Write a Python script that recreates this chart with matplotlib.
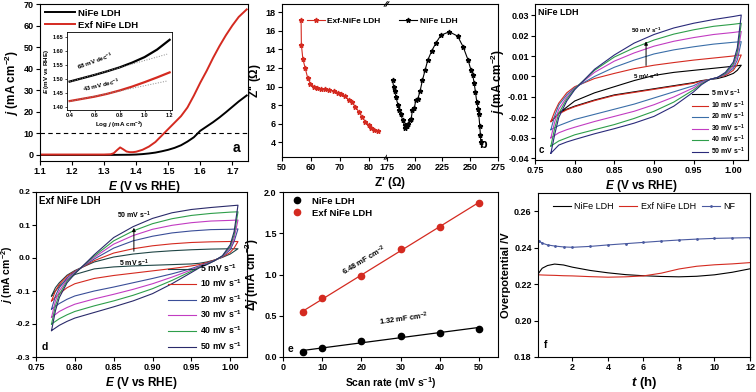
import numpy as np
import matplotlib.pyplot as plt

plt.rcParams['font.family'] = ['Liberation Sans', 'DejaVu Sans']
plt.rcParams['font.weight'] = 'bold'
plt.rcParams['axes.labelweight'] = 'bold'
plt.rcParams['axes.unicode_minus'] = False
plt.rcParams['mathtext.fontset'] = 'custom'
plt.rcParams['mathtext.rm'] = 'Liberation Sans:bold'
plt.rcParams['mathtext.it'] = 'Liberation Sans:italic:bold'
plt.rcParams['mathtext.bf'] = 'Liberation Sans:bold'
plt.rcParams['xtick.labelsize'] = 6.5
plt.rcParams['ytick.labelsize'] = 6.5
plt.rcParams['xtick.major.size'] = 3
plt.rcParams['ytick.major.size'] = 3
plt.rcParams['xtick.major.pad'] = 1.5
plt.rcParams['ytick.major.pad'] = 1.5
plt.rcParams['axes.linewidth'] = 0.8

# ---- a: LSV ----
E_nife = [1.10, 1.20, 1.30, 1.38, 1.40, 1.42, 1.44, 1.46, 1.48, 1.50, 1.52, 1.54, 1.56,
          1.58, 1.60, 1.62, 1.64, 1.66, 1.68, 1.70, 1.72, 1.745]
j_nife = [0, 0, 0, 0.1, 0.2, 0.4, 0.7, 1.1, 1.7, 2.4, 3.3, 4.5, 6.2, 8.2, 11.2, 13.2,
          15.2, 17.4, 19.8, 22.3, 24.8, 27.6]
E_exf = [1.10, 1.20, 1.30, 1.32, 1.33, 1.34, 1.35, 1.36, 1.37, 1.38, 1.39, 1.40, 1.42,
         1.44, 1.46, 1.48, 1.50, 1.52, 1.54, 1.56, 1.58, 1.60, 1.62, 1.64, 1.66, 1.68,
         1.70, 1.72, 1.745]
j_exf = [0.2, 0.2, 0.2, 0.3, 0.8, 2.2, 3.5, 2.6, 1.6, 1.3, 1.3, 1.5, 2.4, 3.9, 6.0, 9.0,
         12.0, 15.0, 18.0, 22.0, 27.5, 33.5, 39.0, 45.0, 50.5, 55.5, 60.0, 64.0, 67.5]

# inset Tafel
logj = [0.4, 0.5, 0.6, 0.7, 0.8, 0.9, 1.0, 1.1, 1.2]
tafel_nife = [1.490, 1.502, 1.514, 1.527, 1.541, 1.558, 1.578, 1.605, 1.640]
tafel_exf = [1.420, 1.428, 1.436, 1.446, 1.458, 1.472, 1.488, 1.505, 1.523]

# ---- b: Nyquist ----
zre_exf = [56.6, 56.7, 57.2, 58.0, 58.9, 59.8, 61.0, 62.1, 63.5, 65.0, 66.4, 67.9, 69.3,
           70.4, 71.7, 73.0, 74.1, 75.4, 76.5, 77.7, 78.8, 80.0, 80.9, 81.9, 83.3]
zim_exf = [17.17, 14.5, 13.0, 12.0, 10.9, 10.3, 10.0, 9.85, 9.75, 9.7, 9.6, 9.5, 9.35,
           9.2, 8.95, 8.6, 8.3, 7.8, 7.3, 6.7, 6.2, 5.85, 5.55, 5.3, 5.15]
zre_nife = [180.0, 180.9, 181.8, 183.1, 184.9, 186.0, 187.2, 189.0, 190.8, 191.4, 192.6,
            193.8, 195.6, 196.8, 197.9, 199.7, 200.9, 202.8, 204.8, 206.9, 209.3, 211.7,
            215.3, 219.1, 223.6, 231.1, 238.6, 243.6, 248.1, 250.5, 252.3, 253.5, 254.7,
            255.9, 257.1, 257.7, 258.6, 259.2, 259.5]
zim_nife = [10.75, 10.0, 9.5, 8.87, 7.97, 7.5, 7.07, 6.42, 5.8, 5.55, 5.7, 5.99, 6.34,
            6.53, 7.43, 7.72, 8.5, 8.7, 9.5, 10.67, 11.75, 12.84, 13.84, 14.7, 15.54, 15.9,
            15.44, 14.28, 12.84, 11.83, 11.2, 10.38, 9.4, 8.3, 7.6, 7.0, 5.7, 4.72, 4.0]

# ---- c / d: CV ----
E_up = [0.77, 0.775, 0.78, 0.79, 0.80, 0.825, 0.85, 0.875, 0.90, 0.925, 0.95, 0.975, 1.00, 1.01]
E_down = [1.01, 1.005, 1.00, 0.99, 0.98, 0.97, 0.96, 0.95, 0.925, 0.90, 0.875, 0.85, 0.825,
          0.80, 0.79, 0.78, 0.77]
scan_labels = ['5 mV s$^{-1}$', '10 mV s$^{-1}$', '20 mV s$^{-1}$', '30 mV s$^{-1}$',
               '40 mV s$^{-1}$', '50 mV s$^{-1}$']

cv_nife_up = [
    [-0.022, -0.020, -0.018, -0.015, -0.012, -0.008, -0.005, -0.002, 0.0005, 0.002, 0.003, 0.004, 0.005, 0.0055],
    [-0.022, -0.017, -0.013, -0.008, -0.005, -0.001, 0.0015, 0.0038, 0.0055, 0.0068, 0.008, 0.009, 0.010, 0.0105],
    [-0.026, -0.019, -0.014, -0.009, -0.0055, 0.000, 0.0045, 0.008, 0.011, 0.013, 0.0145, 0.0158, 0.0167, 0.017],
    [-0.030, -0.022, -0.016, -0.010, -0.0058, 0.002, 0.0075, 0.0115, 0.0148, 0.0172, 0.019, 0.0205, 0.0215, 0.022],
    [-0.034, -0.025, -0.018, -0.011, -0.006, 0.003, 0.0095, 0.014, 0.0178, 0.0207, 0.0228, 0.0245, 0.0255, 0.026],
    [-0.0375, -0.028, -0.020, -0.012, -0.0065, 0.0035, 0.0105, 0.0163, 0.0205, 0.0237, 0.026, 0.0278, 0.0293, 0.030],
]
cv_nife_down = [
    [0.0055, 0.003, 0.0015, 0.000, -0.001, -0.0015, -0.002, -0.003, -0.0045, -0.006, -0.0075, -0.009, -0.0115, -0.0145, -0.016, -0.018, -0.022],
    [0.0105, 0.006, 0.003, 0.0005, -0.0005, -0.0015, -0.0022, -0.0033, -0.0048, -0.0063, -0.0078, -0.0093, -0.0118, -0.0148, -0.0163, -0.0183, -0.022],
    [0.017, 0.008, 0.004, 0.001, -0.0005, -0.0015, -0.0025, -0.0045, -0.0075, -0.0105, -0.0135, -0.016, -0.0185, -0.021, -0.0225, -0.024, -0.026],
    [0.022, 0.010, 0.005, 0.0012, -0.0005, -0.0015, -0.003, -0.0055, -0.010, -0.0138, -0.017, -0.0195, -0.022, -0.0248, -0.026, -0.0275, -0.030],
    [0.026, 0.012, 0.006, 0.0015, -0.0005, -0.0015, -0.0035, -0.0065, -0.0125, -0.017, -0.0205, -0.0235, -0.026, -0.0285, -0.030, -0.0315, -0.034],
    [0.030, 0.014, 0.007, 0.002, -0.0005, -0.0015, -0.004, -0.0075, -0.0145, -0.0195, -0.0228, -0.0255, -0.028, -0.0308, -0.032, -0.0335, -0.0375],
]
cv_exf_up = [
    [-0.115, -0.090, -0.075, -0.052, -0.038, -0.012, 0.003, 0.012, 0.018, 0.022, 0.025, 0.027, 0.028, 0.028],
    [-0.130, -0.100, -0.080, -0.055, -0.040, -0.008, 0.015, 0.028, 0.037, 0.043, 0.047, 0.049, 0.050, 0.050],
    [-0.155, -0.115, -0.090, -0.060, -0.042, -0.003, 0.030, 0.052, 0.066, 0.076, 0.082, 0.086, 0.087, 0.088],
    [-0.180, -0.130, -0.100, -0.065, -0.044, 0.002, 0.042, 0.068, 0.087, 0.099, 0.107, 0.112, 0.114, 0.115],
    [-0.200, -0.145, -0.110, -0.070, -0.046, 0.006, 0.052, 0.082, 0.104, 0.119, 0.129, 0.135, 0.139, 0.140],
    [-0.220, -0.160, -0.120, -0.075, -0.048, 0.010, 0.062, 0.095, 0.120, 0.137, 0.147, 0.153, 0.158, 0.160],
]
cv_exf_down = [
    [0.028, 0.020, 0.012, 0.002, -0.006, -0.012, -0.016, -0.018, -0.020, -0.022, -0.024, -0.027, -0.033, -0.050, -0.065, -0.085, -0.115],
    [0.050, 0.030, 0.017, 0.003, -0.006, -0.014, -0.020, -0.024, -0.032, -0.039, -0.046, -0.053, -0.062, -0.078, -0.090, -0.108, -0.130],
    [0.088, 0.050, 0.025, 0.004, -0.007, -0.016, -0.024, -0.032, -0.048, -0.062, -0.075, -0.088, -0.100, -0.115, -0.125, -0.138, -0.155],
    [0.115, 0.060, 0.030, 0.005, -0.008, -0.018, -0.026, -0.036, -0.058, -0.078, -0.095, -0.110, -0.124, -0.140, -0.150, -0.162, -0.180],
    [0.140, 0.070, 0.035, 0.006, -0.008, -0.019, -0.028, -0.040, -0.068, -0.093, -0.113, -0.130, -0.145, -0.162, -0.172, -0.184, -0.200],
    [0.160, 0.080, 0.040, 0.007, -0.008, -0.020, -0.030, -0.044, -0.078, -0.108, -0.130, -0.148, -0.165, -0.182, -0.192, -0.204, -0.220],
]
colors_c = ['#000000', '#d42a20', '#3a6ea8', '#c23cc2', '#2e9e4a', '#2a2a7a']
colors_d = ['#1f4545', '#d42a20', '#3a4e98', '#c23cc2', '#2e9e4a', '#2a2a6a']

# ---- e: double layer capacitance ----
scan_rate = [5, 10, 20, 30, 40, 50]
dj_nife = [0.06, 0.11, 0.19, 0.25, 0.295, 0.345]
dj_exf = [0.545, 0.71, 0.98, 1.315, 1.575, 1.87]

# ---- f: stability ----
t_h = [0.1, 0.3, 0.6, 1.0, 1.5, 2, 3, 4, 5, 6, 7, 8, 9, 10, 11, 12]
eta_nife = [0.2260, 0.2287, 0.2302, 0.2310, 0.2305, 0.2293, 0.2275, 0.2262, 0.2252, 0.2246,
            0.2242, 0.2240, 0.2243, 0.2251, 0.2265, 0.2284]
eta_exf = [0.2251, 0.2250, 0.2249, 0.2248, 0.2246, 0.2245, 0.2241, 0.2238, 0.2240, 0.2245,
           0.2260, 0.2283, 0.2298, 0.2306, 0.2311, 0.2318]
eta_nf = [0.2438, 0.2425, 0.2415, 0.2409, 0.2404, 0.2402, 0.2407, 0.2415, 0.2422, 0.2429,
          0.2436, 0.2442, 0.2447, 0.2451, 0.2453, 0.2455]

RED = '#d42a20'


def px(l, t, r, b):
    W, H = 756, 392
    return [l / W, 1 - b / H, (r - l) / W, (b - t) / H]


fig = plt.figure(figsize=(7.56, 3.92), dpi=100)

# panel a
ax = fig.add_axes(px(40, 4, 248, 161))
ax.plot(E_nife, j_nife, color='k', lw=1.4, label='NiFe LDH')
ax.plot(E_exf, j_exf, color=RED, lw=1.4, label='Exf NiFe LDH')
ax.axhline(10, color='k', ls='--', lw=0.8, dashes=(4, 3))
ax.set_xlim(1.1, 1.749)
ax.set_ylim(-2.8, 70)
ax.set_xticks([1.1, 1.2, 1.3, 1.4, 1.5, 1.6, 1.7])
ax.set_yticks(range(0, 71, 10))
ax.set_xlabel('$E$ (V vs RHE)', fontsize=8.5, labelpad=2)
ax.set_ylabel('$j$ (mA cm$^{-2}$)', fontsize=8.5, labelpad=2)
ax.legend(loc='upper left', frameon=False, fontsize=6.8, handlelength=3.2,
          borderaxespad=0.1, labelspacing=0.3, handletextpad=0.3)
ax.text(0.965, 0.04, 'a', transform=ax.transAxes, ha='right', va='bottom', fontsize=10)

ins = fig.add_axes(px(67, 32, 172, 110))
ins.plot(logj, tafel_nife, color='k', lw=1.6)
ins.plot(logj, tafel_exf, color=RED, lw=1.6)
xf = np.array([0.4, 1.18])
for yv in (tafel_nife, tafel_exf):
    p = np.polyfit(logj[:5], yv[:5], 1)
    ins.plot(xf, np.polyval(p, xf), color='#888888', ls=':', lw=0.7)
ins.set_xlim(0.379, 1.219)
ins.set_ylim(1.388, 1.668)
ins.set_xticks([0.4, 0.6, 0.8, 1.0, 1.2])
ins.set_yticks([1.40, 1.45, 1.50, 1.55, 1.60, 1.65])
ins.tick_params(labelsize=4, length=1.5, pad=1, width=0.5)
for s in ins.spines.values():
    s.set_linewidth(0.6)
ins.set_xlabel('Log $j$ (mA cm$^{-2}$)', fontsize=4.5, labelpad=1)
ins.set_ylabel('$E$ (mV vs RHE)', fontsize=4.5, labelpad=1)
ins.text(0.45, 1.532, '68 mV dec$^{-1}$', fontsize=4.5, rotation=20)
ins.text(0.5, 1.455, '43 mV dec$^{-1}$', fontsize=4.5, rotation=13)

# panel b (broken x axis)
bl = fig.add_axes(px(282, 4, 387, 157))
br = fig.add_axes(px(387, 4, 498, 157))
bl.plot(zre_exf, zim_exf, color=RED, lw=0.8, marker='*', ms=3.5, label='Exf-NiFe LDH')
br.plot(zre_nife, zim_nife, color='k', lw=0.8, marker='*', ms=3.5, label='NiFe LDH')
bl.set_xlim(50, 86.3)
br.set_xlim(175, 275)
for a in (bl, br):
    a.set_ylim(2.4, 18.9)
bl.set_yticks(range(4, 19, 2))
bl.set_xticks([50, 60, 70, 80])
br.set_xticks([175, 200, 225, 250, 275])
bl.spines['right'].set_visible(False)
br.spines['left'].set_visible(False)
br.tick_params(axis='y', left=False, labelleft=False)
for yy in (0, 1):
    for dx in (-0.012, 0.004):
        bl.plot([1 + dx - 0.015, 1 + dx + 0.015], [yy - 0.015, yy + 0.015],
                transform=bl.transAxes, color='k', lw=0.7, clip_on=False)
bl.set_ylabel("Z'' ($\\Omega$)", fontsize=8.5, labelpad=2)
fig.text(390 / 756, 1 - 183 / 392, "Z' ($\\Omega$)", fontsize=8.5, ha='center', va='center')
h1, l1 = bl.get_legend_handles_labels()
h2, l2 = br.get_legend_handles_labels()
fig.legend(h1 + h2, l1 + l2, ncol=2, loc='center', bbox_to_anchor=(382 / 756, 1 - 21 / 392),
           frameon=False, fontsize=6, handlelength=2.2, columnspacing=2.2, handletextpad=0.3)
br.text(0.9, 0.04, 'b', transform=br.transAxes, ha='right', va='bottom', fontsize=9)

# panel c
axc = fig.add_axes(px(535, 4, 748, 160))
for k in range(6):
    axc.plot(E_up + E_down, cv_nife_up[k] + cv_nife_down[k], color=colors_c[k], lw=0.8,
             label=scan_labels[k])
axc.set_xlim(0.75, 1.0185)
axc.set_ylim(-0.0408, 0.0354)
axc.set_xticks([0.75, 0.80, 0.85, 0.90, 0.95, 1.00])
axc.set_yticks([-0.04, -0.03, -0.02, -0.01, 0.00, 0.01, 0.02, 0.03])
axc.yaxis.set_major_formatter(plt.FormatStrFormatter('%.2f'))
axc.xaxis.set_major_formatter(plt.FormatStrFormatter('%.2f'))
axc.set_xlabel('$E$ (V vs RHE)', fontsize=8.5, labelpad=2)
axc.set_ylabel('$j$ (mA cm$^{-2}$)', fontsize=8.5, labelpad=1)
axc.legend(loc='lower right', frameon=False, fontsize=5, handlelength=2.2,
           labelspacing=0.02, borderaxespad=0.1, handletextpad=0.4)
axc.text(0.015, 0.975, 'NiFe LDH', transform=axc.transAxes, ha='left', va='top', fontsize=6.5)
axc.text(0.015, 0.03, 'c', transform=axc.transAxes, ha='left', va='bottom', fontsize=7)
axc.annotate('', xy=(0.89, 0.0185), xytext=(0.89, 0.004),
             arrowprops=dict(arrowstyle='-|>', lw=0.7, color='k', mutation_scale=5))
axc.text(0.89, 0.0205, '50 mV s$^{-1}$', fontsize=4.5, ha='center', va='bottom')
axc.text(0.89, 0.0025, '5 mV s$^{-1}$', fontsize=4.5, ha='center', va='top')

# panel d
axd = fig.add_axes(px(36, 192, 247, 357))
for k in range(6):
    axd.plot(E_up + E_down, cv_exf_up[k] + cv_exf_down[k], color=colors_d[k], lw=0.8,
             label=scan_labels[k])
axd.set_xlim(0.75, 1.0216)
axd.set_ylim(-0.3, 0.2)
axd.set_xticks([0.75, 0.80, 0.85, 0.90, 0.95, 1.00])
axd.set_yticks([-0.3, -0.2, -0.1, 0.0, 0.1, 0.2])
axd.tick_params(axis='y', labelsize=6, pad=1)
axd.yaxis.set_major_formatter(plt.FormatStrFormatter('%.1f'))
axd.xaxis.set_major_formatter(plt.FormatStrFormatter('%.2f'))
axd.set_xlabel('$E$ (V vs RHE)', fontsize=8.5, labelpad=2)
axd.set_ylabel('$j$ (mA cm$^{-2}$)', fontsize=7.5)
axd.yaxis.set_label_coords(-0.1, 0.5)
axd.legend(loc='lower right', frameon=False, fontsize=6.3, handlelength=3.2,
           labelspacing=0.45, borderaxespad=0.2, handletextpad=0.4)
axd.text(0.015, 0.975, 'Exf NiFe LDH', transform=axd.transAxes, ha='left', va='top', fontsize=7)
axd.text(0.025, 0.03, 'd', transform=axd.transAxes, ha='left', va='bottom', fontsize=7.5)
axd.annotate('', xy=(0.876, 0.1), xytext=(0.876, 0.012),
             arrowprops=dict(arrowstyle='-|>', lw=0.7, color='k', mutation_scale=5))
axd.text(0.876, 0.112, '50 mV s$^{-1}$', fontsize=5, ha='center', va='bottom')
axd.text(0.876, 0.0, '5 mV s$^{-1}$', fontsize=5, ha='center', va='top')

# panel e
axe = fig.add_axes(px(283, 192, 498, 357))
axe.plot(scan_rate, dj_nife, 'o', color='k', ms=4.5, label='NiFe LDH')
axe.plot(scan_rate, dj_exf, 'o', color=RED, ms=4.5, label='Exf NiFe LDH')
xr = np.array([5, 50])
axe.plot(xr, np.polyval(np.polyfit(scan_rate, dj_nife, 1), xr), color='k', lw=0.9)
axe.plot(xr, np.polyval(np.polyfit(scan_rate, dj_exf, 1), xr), color=RED, lw=0.9)
axe.set_xlim(0, 54.8)
axe.set_ylim(0, 2.0)
axe.set_xticks(range(0, 51, 10))
axe.set_yticks([0.0, 0.5, 1.0, 1.5, 2.0])
axe.yaxis.set_major_formatter(plt.FormatStrFormatter('%.1f'))
axe.set_xlabel('Scan rate (mV s$^{-1}$)', fontsize=7.5, labelpad=2)
axe.set_ylabel('$\\Delta j$ (mA cm$^{-2}$)', fontsize=8.5, labelpad=2)
axe.legend(loc='upper left', frameon=False, fontsize=6.8, handletextpad=0.6,
           borderaxespad=0.1, labelspacing=0.3)
axe.text(20.8, 1.17, '6.48 mF cm$^{-2}$', fontsize=5.5, rotation=31, ha='center', va='center')
axe.text(30.8, 0.46, '1.32 mF cm$^{-2}$', fontsize=5.5, rotation=8, ha='center', va='center')
axe.text(1.2, 0.1, 'e', fontsize=7.5, ha='left', va='center')

# panel f
axf = fig.add_axes(px(538, 193, 750, 357))
axf.plot(t_h, eta_nife, color='k', lw=0.8, label='NiFe LDH')
axf.plot(t_h, eta_exf, color=RED, lw=0.8, label='Exf NiFe LDH')
axf.plot(t_h, eta_nf, color='#4a5aa0', lw=0.8, marker='.', ms=2, label='NF')
axf.set_xlim(0.064, 12)
axf.set_ylim(0.18, 0.27)
axf.set_xticks(range(2, 13, 2))
axf.set_yticks([0.18, 0.20, 0.22, 0.24, 0.26])
axf.yaxis.set_major_formatter(plt.FormatStrFormatter('%.2f'))
axf.set_xlabel('$t$ (h)', fontsize=9.5, labelpad=2)
axf.set_ylabel('Overpotential /V', fontsize=8, labelpad=2)
axf.legend(loc='upper center', ncol=3, frameon=False, handlelength=2.0,
           columnspacing=0.6, handletextpad=0.4, borderaxespad=0.6,
           prop={'weight': 'normal', 'size': 6.5})
axf.text(0.03, 0.04, 'f', transform=axf.transAxes, ha='left', va='bottom', fontsize=7.5)

fig.savefig('out.png', dpi=100)
